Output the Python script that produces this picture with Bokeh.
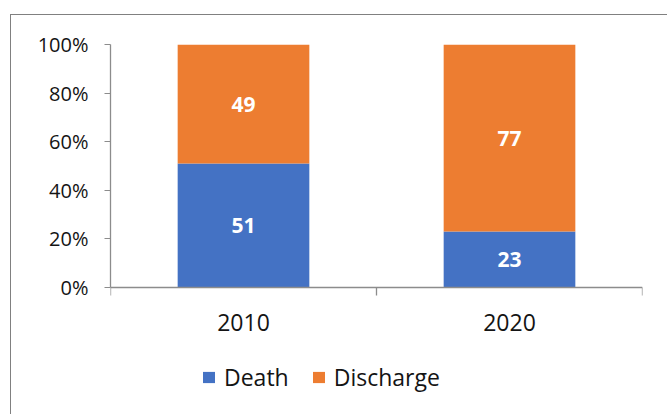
from bokeh.plotting import figure
from bokeh.models import (Range1d, FixedTicker, PrintfTickFormatter, Legend, LegendItem,
                          ColumnDataSource)
from bokeh.core.properties import value
from bokeh.embed import file_html
from bokeh.resources import INLINE

years = ["2010", "2020"]
death = [51, 23]
discharge = [49, 77]
y_ticks = [0, 20, 40, 60, 80, 100]

BLUE = "#4472C4"
ORANGE = "#ED7D31"
FONT = "Open Sans"
AXIS = "#8c8c8c"
TEXT = "#141414"

# bar centres sit in the middle of each unit-wide category slot
xs = [i + 0.5 for i in range(len(years))]
edges = list(range(len(years) + 1))

src = ColumnDataSource(dict(
    x=xs, year=years, death=death, discharge=discharge,
    death_mid=[d / 2 for d in death],
    dis_mid=[d + c / 2 for d, c in zip(death, discharge)],
    death_lbl=[str(d) for d in death],
    dis_lbl=[str(c) for c in discharge],
))

# plot frame runs to the bottom of the chart area so the legend can sit inside it;
# the value axis only spans 0-100 %
TOP = 29
H = 400
PX_PER_UNIT = 2.43
y_min = 100 - (H - TOP) / PX_PER_UNIT

p = figure(width=657, height=H, output_backend="svg", toolbar_location=None,
           x_range=Range1d(0, len(years)), y_range=Range1d(y_min, 100),
           min_border_left=99, min_border_right=26, min_border_top=TOP, min_border_bottom=0)
p.margin = (14, 0, 0, 10)
p.styles = {"border-left": "1.5px solid #808080", "border-top": "1.5px solid #808080"}
p.outline_line_color = None
p.grid.grid_line_color = None
p.background_fill_color = "white"
p.border_fill_color = "white"

renderers = p.vbar_stack(["death", "discharge"], x="x", width=0.495, source=src,
                         color=[BLUE, ORANGE], line_color=None)

# value labels inside each segment
for ycol, tcol in (("death_mid", "death_lbl"), ("dis_mid", "dis_lbl")):
    p.text(x="x", y=ycol, text=tcol, source=src, text_color="white",
           text_font=value(FONT), text_font_style="bold", text_font_size="21px",
           text_align="center", text_baseline="middle")

# y axis
ya = p.yaxis[0]
ya.bounds = (0, 100)
ya.ticker = FixedTicker(ticks=y_ticks)
ya.formatter = PrintfTickFormatter(format="%d%%")
ya.axis_line_color = AXIS
ya.axis_line_width = 1.3
ya.major_tick_line_color = AXIS
ya.major_tick_out = 6
ya.major_tick_in = 0
ya.minor_tick_line_color = None
ya.major_label_standoff = 16
ya.major_label_text_font = FONT
ya.major_label_text_font_size = "20px"
ya.major_label_text_color = TEXT

# x axis at 0 %: labels under bar centres, boundary ticks between categories
xa = p.xaxis[0]
xa.fixed_location = 0
xa.ticker = FixedTicker(ticks=xs, minor_ticks=edges)
xa.major_label_overrides = {x: y for x, y in zip(xs, years)}
xa.axis_line_color = AXIS
xa.axis_line_width = 1.3
xa.major_tick_line_color = None
xa.major_tick_out = 0
xa.major_tick_in = 0
xa.minor_tick_line_color = AXIS
xa.minor_tick_line_width = 1.3
xa.minor_tick_out = 8
xa.minor_tick_in = 0
xa.major_label_standoff = 18
xa.major_label_text_font = FONT
xa.major_label_text_font_size = "23px"
xa.major_label_text_color = TEXT

legend = Legend(items=[LegendItem(label="Death", renderers=[renderers[0]]),
                       LegendItem(label="Discharge", renderers=[renderers[1]])],
                location=(91, 22), orientation="horizontal",
                glyph_width=15, glyph_height=14, label_standoff=8, spacing=22,
                padding=0, margin=0, border_line_color=None, background_fill_alpha=0,
                label_text_font=FONT, label_text_font_size="23px",
                label_text_color=TEXT)
p.add_layout(legend, "center")

open("out.html", "w").write(file_html(p, INLINE))
